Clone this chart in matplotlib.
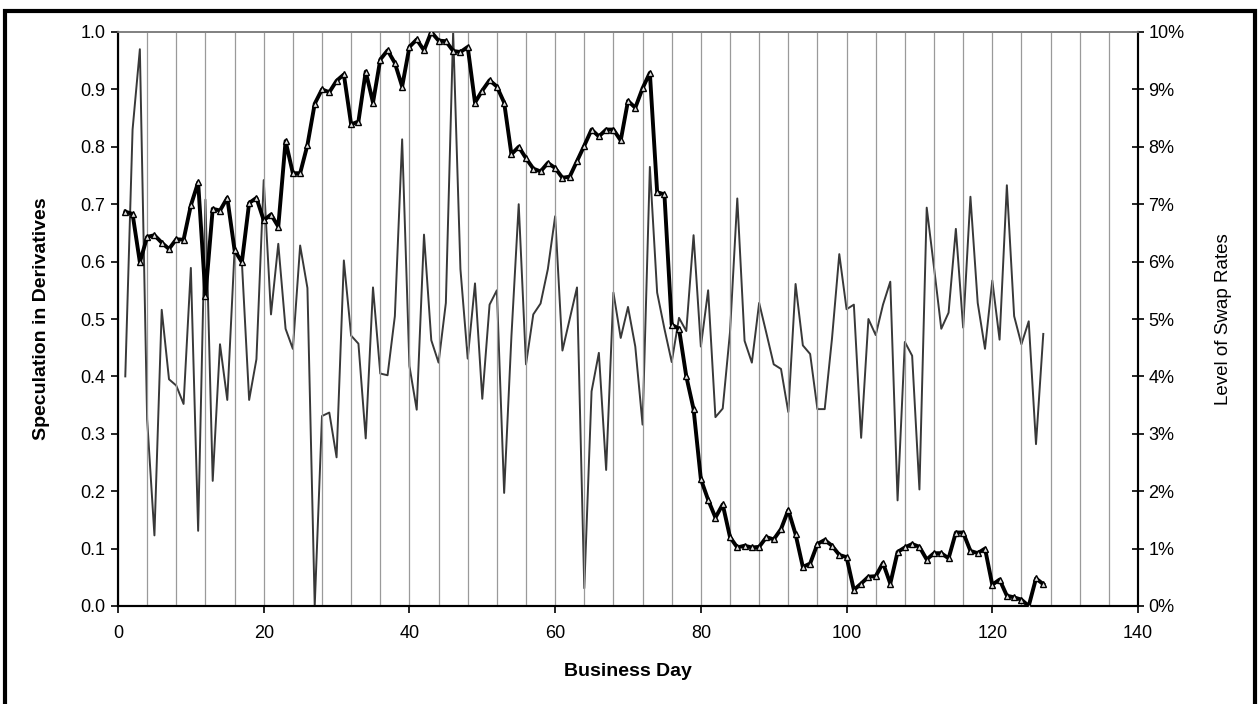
import matplotlib
matplotlib.use("Agg")
import matplotlib.pyplot as plt
from matplotlib.patches import Rectangle
from matplotlib.ticker import FuncFormatter, MultipleLocator

plt.rcParams['font.family'] = ['Liberation Sans', 'DejaVu Sans']

days = list(range(1, 128))

speculation = [
    0.687, 0.683, 0.599, 0.643, 0.646, 0.633, 0.622, 0.639, 0.638, 0.698,
    0.738, 0.540, 0.692, 0.689, 0.711, 0.620, 0.599, 0.702, 0.711, 0.672,
    0.682, 0.661, 0.810, 0.754, 0.754, 0.803, 0.875, 0.900, 0.895, 0.915,
    0.926, 0.839, 0.844, 0.931, 0.877, 0.952, 0.968, 0.946, 0.905, 0.974,
    0.987, 0.968, 1.000, 0.985, 0.984, 0.967, 0.965, 0.974, 0.877, 0.898,
    0.916, 0.905, 0.877, 0.787, 0.800, 0.780, 0.762, 0.757, 0.772, 0.763,
    0.746, 0.748, 0.775, 0.802, 0.830, 0.818, 0.830, 0.830, 0.811, 0.880,
    0.868, 0.902, 0.929, 0.721, 0.717, 0.490, 0.483, 0.400, 0.343, 0.221,
    0.185, 0.154, 0.177, 0.120, 0.102, 0.105, 0.102, 0.103, 0.120, 0.116,
    0.134, 0.167, 0.125, 0.068, 0.074, 0.108, 0.115, 0.105, 0.089, 0.085,
    0.028, 0.039, 0.051, 0.052, 0.075, 0.039, 0.094, 0.102, 0.108, 0.103,
    0.081, 0.092, 0.092, 0.083, 0.128, 0.128, 0.096, 0.092, 0.100, 0.037,
    0.046, 0.018, 0.015, 0.011, 0.000, 0.048, 0.038,
]

swap_rates = [
    4.00, 8.30, 9.70, 3.25, 1.23, 5.16, 3.95, 3.84, 3.52, 5.89,
    1.31, 7.08, 2.18, 4.56, 3.59, 6.20, 6.00, 3.59, 4.30, 7.42,
    5.08, 6.31, 4.83, 4.48, 6.28, 5.54, 0.00, 3.31, 3.37, 2.59,
    6.02, 4.71, 4.57, 2.92, 5.55, 4.05, 4.02, 5.05, 8.13, 4.18,
    3.42, 6.47, 4.63, 4.24, 5.28, 10.00, 5.87, 4.31, 5.62, 3.61,
    5.25, 5.50, 1.97, 4.70, 7.00, 4.21, 5.08, 5.27, 5.87, 6.79,
    4.45, 5.00, 5.55, 0.31, 3.74, 4.41, 2.37, 5.46, 4.67, 5.21,
    4.52, 3.16, 7.65, 5.46, 4.83, 4.25, 5.02, 4.79, 6.46, 4.52,
    5.50, 3.29, 3.44, 4.77, 7.10, 4.62, 4.24, 5.28, 4.75, 4.21,
    4.13, 3.38, 5.61, 4.54, 4.39, 3.43, 3.43, 4.66, 6.13, 5.17,
    5.25, 2.93, 5.00, 4.72, 5.25, 5.65, 1.84, 4.60, 4.36, 2.03,
    6.94, 5.90, 4.83, 5.11, 6.57, 4.85, 7.13, 5.28, 4.48, 5.67,
    4.64, 7.33, 5.05, 4.56, 4.96, 2.82, 4.74,
]

x_ticks = [0, 20, 40, 60, 80, 100, 120, 140]
left_ticks = [0.0, 0.1, 0.2, 0.3, 0.4, 0.5, 0.6, 0.7, 0.8, 0.9, 1.0]
right_ticks = [0, 1, 2, 3, 4, 5, 6, 7, 8, 9, 10]

fig = plt.figure(figsize=(12.59, 7.04), dpi=100)
fig.patch.set_facecolor('white')

ax = fig.add_axes([118/1259, 1-606/704, (1138-118)/1259, (606-32)/704])
ax2 = ax.twinx()

ax.xaxis.set_minor_locator(MultipleLocator(4))
ax.grid(True, which='minor', axis='x', color='#9a9a9a', linewidth=0.9)
ax.grid(True, which='major', axis='x', color='#9a9a9a', linewidth=0.9)
ax.set_axisbelow(True)

ax2.plot(days, swap_rates, color='#383838', linewidth=1.4, zorder=2)
ax.set_zorder(ax2.get_zorder() + 1)
ax.patch.set_visible(False)
ax.plot(days, speculation, color='black', linewidth=2.8, marker='^',
        markersize=5, markerfacecolor='#e0e0e0', markeredgecolor='black',
        markeredgewidth=1.0, zorder=3)

ax.set_xlim(0, 140)
ax.set_ylim(0, 1.0)
ax2.set_ylim(0, 10)
ax.set_xticks(x_ticks)
ax.set_yticks(left_ticks)
ax2.set_yticks(right_ticks)
ax.yaxis.set_major_formatter(FuncFormatter(lambda v, p: f"{v:.1f}"))
ax2.yaxis.set_major_formatter(FuncFormatter(lambda v, p: f"{v:.0f}%"))
ax.xaxis.set_major_formatter(FuncFormatter(lambda v, p: f"{v:.0f}"))

for a in (ax, ax2):
    a.spines['top'].set_color('#808080')
    a.spines['top'].set_linewidth(1.2)
    a.spines['left'].set_linewidth(1.5)
    a.spines['bottom'].set_linewidth(1.5)
    a.spines['right'].set_linewidth(1.5)

ax.tick_params(axis='x', which='major', direction='out', length=5, width=1.2,
               labelsize=13, pad=9)
ax.tick_params(axis='x', which='minor', length=0)
ax.tick_params(axis='y', direction='out', length=5, width=1.2, labelsize=13, pad=4)
ax2.tick_params(axis='y', direction='inout', length=9, width=1.2, labelsize=13, pad=3)

ax.set_xlabel('Business Day', fontsize=14, fontweight='bold', labelpad=15)
ax.set_ylabel('Speculation in Derivatives', fontsize=14, fontweight='bold', labelpad=22)
ax2.set_ylabel('Level of Swap Rates', fontsize=13.5, labelpad=22, rotation=90)

fig.patches.append(Rectangle((4.5/1259, -0.02), (1255-4.5)/1259, 1.02 - 10.5/704,
                             transform=fig.transFigure, fill=False,
                             edgecolor='black', linewidth=3))

fig.savefig('out.png', dpi=100)
